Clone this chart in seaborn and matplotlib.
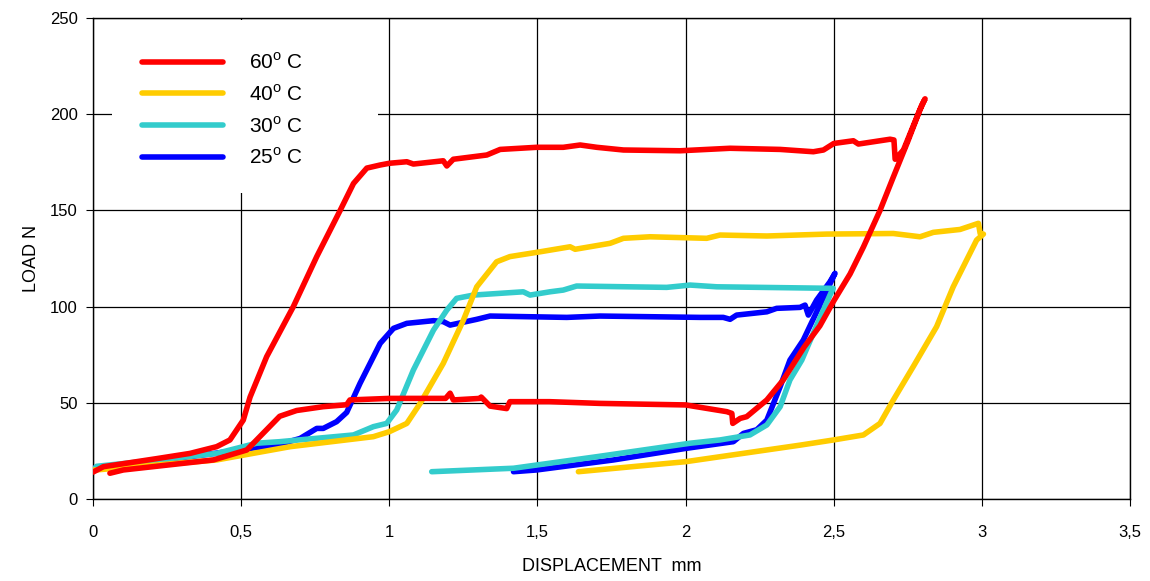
import numpy as np
import pandas as pd
import matplotlib
matplotlib.use("Agg")
import matplotlib.pyplot as plt
from matplotlib.lines import Line2D
from matplotlib.patches import Rectangle
import seaborn as sns

# ---- data ----
x_60 = [0, 0.035, 0.215, 0.327, 0.417, 0.462, 0.507, 0.53, 0.586, 0.676, 0.755, 0.834,
        0.879, 0.924, 0.969, 1.0, 1.059, 1.081, 1.182, 1.194, 1.216, 1.329, 1.374, 1.497,
        1.587, 1.644, 1.7, 1.79, 1.981, 2.15, 2.319, 2.431, 2.465, 2.5, 2.566, 2.583,
        2.69, 2.703, 2.707, 2.735, 2.797, 2.808,
        2.79, 2.75, 2.7, 2.656, 2.6, 2.555, 2.5, 2.453, 2.4, 2.33, 2.274, 2.206, 2.184,
        2.159, 2.156, 2.139, 2.0, 1.711, 1.54, 1.407, 1.396, 1.34, 1.31, 1.306, 1.216,
        1.205, 1.19, 1.0, 0.867, 0.856, 0.777, 0.687, 0.63, 0.552, 0.519, 0.406, 0.102, 0.057]
y_60 = [14, 16.8, 21, 23.7, 27.2, 30.7, 41, 53, 74, 100, 126, 150,
        164, 172, 173.6, 174.5, 175.3, 174.1, 175.8, 173.1, 176.6, 178.8, 181.7, 182.8,
        182.8, 184, 182.8, 181.4, 181, 182.3, 181.7, 180.5, 181.4, 184.8, 186.2, 184.5,
        187, 186.6, 176.6, 181.4, 204.8, 208,
        202, 186, 167, 150, 131, 117, 103, 90, 79, 62, 51.5, 42.8, 41.9,
        39.3, 44.5, 45.4, 48.9, 49.7, 50.6, 50.6, 47, 48.3, 53, 52.3, 51.5,
        55, 52.3, 52.3, 51.5, 49, 48, 46, 43, 30.7, 25.5, 20.3, 15.1, 13.4]

x_40 = [0, 0.2, 0.417, 0.665, 0.946, 1.0, 1.059, 1.104, 1.182, 1.25, 1.295, 1.362, 1.407,
        1.509, 1.61, 1.627, 1.745, 1.79, 1.88, 2.071, 2.116, 2.274, 2.476, 2.701, 2.791,
        2.836, 2.926, 2.988, 2.994, 3.005,
        2.982, 2.903, 2.847, 2.768, 2.701, 2.656, 2.6, 2.499, 2.386, 2.0, 1.638]
y_40 = [15, 17.5, 20.3, 27.2, 32.4, 35, 39.3, 49.7, 70.5, 93, 110.3, 123.3, 126,
        128.5, 131.1, 129.8, 132.9, 135.5, 136.3, 135.5, 137.2, 136.7, 137.7, 138, 136.3,
        138.6, 140.1, 143.3, 138, 137.7,
        134.6, 110.3, 89.6, 68.8, 51.5, 39.3, 33.3, 30.7, 28, 19.4, 14.2]

x_30 = [0, 0.012, 0.2, 0.417, 0.552, 0.63, 0.879, 0.946, 0.991, 1.025, 1.081, 1.149, 1.194,
        1.227, 1.284, 1.452, 1.475, 1.542, 1.587, 1.632, 1.936, 2.015, 2.105, 2.498,
        2.49, 2.45, 2.392, 2.352, 2.319, 2.274, 2.217, 2.116, 2.015, 1.7, 1.419, 1.143]
y_30 = [15, 17, 20, 23.7, 29, 29.8, 33.3, 37.6, 39.3, 46.3, 67, 87.8, 98.2,
        104.3, 106, 107.7, 106, 107.7, 108.6, 110.7, 110, 111.2, 110.3, 109.5,
        107, 93, 72.2, 61.9, 48, 38.5, 33.3, 30.7, 29, 22, 16, 14.2]

x_25 = [0, 0.2, 0.4, 0.53, 0.62, 0.699, 0.755, 0.777, 0.822, 0.856, 0.901, 0.969, 1.014,
        1.059, 1.149, 1.182, 1.205, 1.295, 1.34, 1.599, 1.711, 2.049, 2.127, 2.15, 2.172,
        2.274, 2.307, 2.386, 2.403, 2.414, 2.442, 2.487, 2.504,
        2.397, 2.352, 2.319, 2.274, 2.24, 2.195, 2.161, 2.0, 1.756, 1.497, 1.419]
y_25 = [16, 19.5, 23.5, 26.3, 28, 31.5, 36.7, 36.7, 40.2, 45, 60.1, 80.9, 88.7,
        91.3, 92.7, 92.2, 90.4, 93.4, 95.1, 94.4, 95.1, 94.4, 94.4, 93.4, 95.6,
        97.3, 99.1, 99.6, 100.8, 95.6, 103.4, 112.9, 117.3,
        82.6, 72.2, 58.4, 41, 36, 34.1, 29.8, 26.3, 20.3, 15.1, 14.2]

series_names = ["60", "40", "30", "25"]
series_colors = ["#FF0000", "#FFCC00", "#33CCCC", "#0000FF"]
legend_labels = ["60$^{\\mathrm{o}}$ C", "40$^{\\mathrm{o}}$ C",
                 "30$^{\\mathrm{o}}$ C", "25$^{\\mathrm{o}}$ C"]

x_ticks = [0, 0.5, 1, 1.5, 2, 2.5, 3, 3.5]
x_tick_labels = ["0", "0,5", "1", "1,5", "2", "2,5", "3", "3,5"]
y_ticks = [0, 50, 100, 150, 200, 250]

# long table, one row per point, keeping the drawing order of each curve
frames = []
for name, xs, ys in [("60", x_60, y_60), ("40", x_40, y_40),
                     ("30", x_30, y_30), ("25", x_25, y_25)]:
    frames.append(pd.DataFrame({"disp": xs, "load": ys, "temp": name,
                                "step": np.arange(len(xs))}))
df = pd.concat(frames, ignore_index=True)

sns.set_theme(style="white")
plt.rcParams["font.family"] = ["Liberation Sans", "DejaVu Sans"]
plt.rcParams["mathtext.fontset"] = "custom"
plt.rcParams["mathtext.rm"] = "Liberation Sans"
plt.rcParams["text.color"] = "black"
plt.rcParams["axes.labelcolor"] = "black"

fig = plt.figure(figsize=(11.5, 5.81), dpi=100)
ax = fig.add_axes([0.0809, 0.1411, 0.9018, 0.8279])

palette = dict(zip(series_names, series_colors))
# blue drawn first, red last (on top)
sns.lineplot(data=df, x="disp", y="load", hue="temp", hue_order=series_names[::-1],
             palette=palette, sort=False, estimator=None, units="temp",
             lw=4, legend=False, ax=ax, zorder=3)

ax.set_xlim(0, 3.5)
ax.set_ylim(0, 250)
ax.set_xticks(x_ticks)
ax.set_xticklabels(x_tick_labels)
ax.set_yticks(y_ticks)
ax.grid(True, color="black", lw=0.9)
ax.set_axisbelow(True)
for s in ax.spines.values():
    s.set_color("black")
    s.set_linewidth(1)
ax.tick_params(axis="both", direction="out", length=5, width=0.8, color="black",
               labelsize=12, labelcolor="black")
ax.tick_params(axis="x", pad=14)
ax.tick_params(axis="y", pad=6)
ax.tick_params(left=True, bottom=True)

ax.set_xlabel("DISPLACEMENT  mm", fontsize=13, labelpad=13, color="black")
ax.set_ylabel("LOAD N", fontsize=13, labelpad=7, color="black")

# white panel behind the legend hiding the grid
ax.add_patch(Rectangle((0.018, 0.636), 0.257, 0.36, transform=ax.transAxes,
                       facecolor="white", edgecolor="none", zorder=1.5))
handles = [Line2D([], [], color=c, lw=4) for c in series_colors]
ax.legend(handles, legend_labels, loc="upper left", bbox_to_anchor=(0.047, 0.929),
          frameon=False, fontsize=15, handlelength=3.9, handletextpad=1.25,
          labelspacing=0.53, borderpad=0, borderaxespad=0, labelcolor="black")

fig.savefig("out.png", dpi=100)
